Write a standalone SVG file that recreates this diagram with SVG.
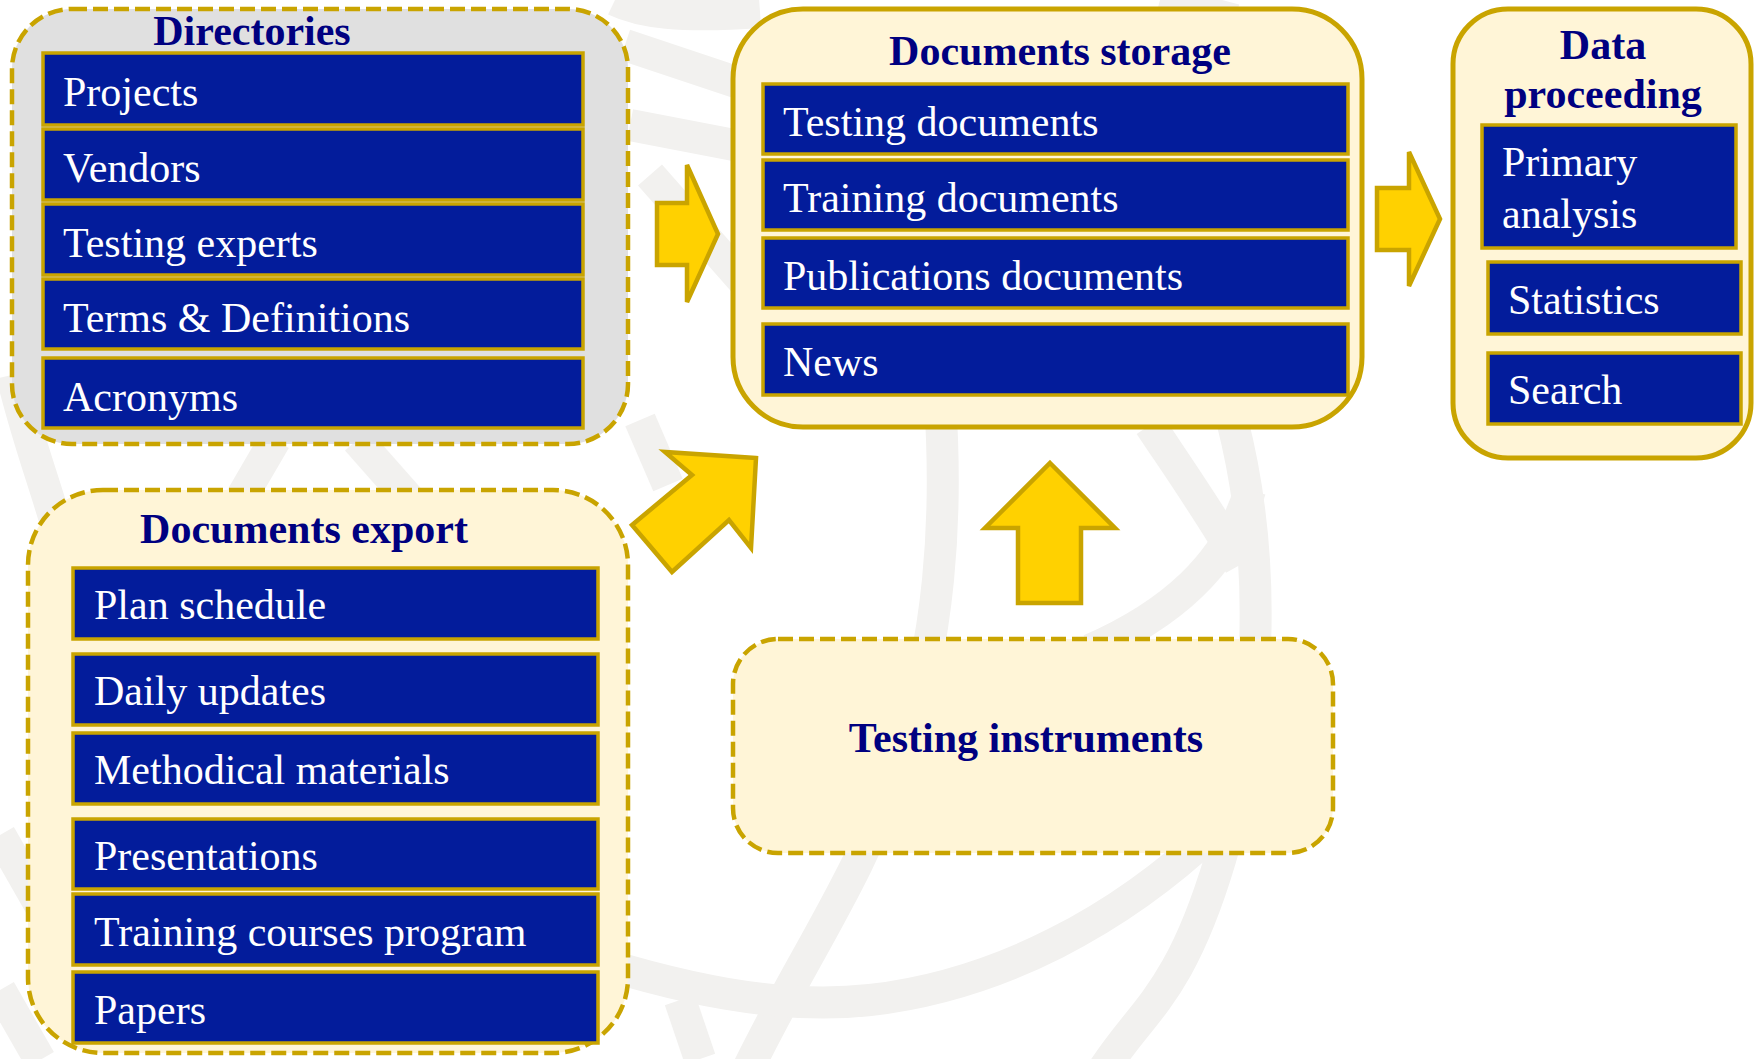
<svg xmlns="http://www.w3.org/2000/svg" width="1758" height="1059" viewBox="0 0 1758 1059">
<style>
.wm{fill:none;stroke:#f2f1ef;stroke-width:32;stroke-linecap:butt}
.grp-grey{fill:#e0e0e0;stroke:#c9a400;stroke-width:4.5;stroke-dasharray:15 6}
.grp-dash{fill:#fff5d7;stroke:#c9a400;stroke-width:4.5;stroke-dasharray:15 6}
.grp-solid{fill:#fff5d7;stroke:#c9a400;stroke-width:5}
.item{fill:#031c9b;stroke:#c9a400;stroke-width:3.5}
.title{font-family:"Liberation Serif","Times New Roman",serif;font-weight:bold;font-size:42px;fill:#000080;text-anchor:middle}
.lbl{font-family:"Liberation Serif","Times New Roman",serif;font-size:42px;fill:#ffffff}
.arrow{fill:#ffd100;stroke:#c9a400;stroke-width:4.5;stroke-linejoin:miter}
</style>
<rect width="1758" height="1059" fill="#ffffff"/>
<g id="watermark">
<path class="wm" d="M 940 400 C 948 520, 940 640, 900 760 S 800 960, 745 1075"/>
<path class="wm" d="M 1232 420 C 1268 560, 1262 720, 1220 860 S 1140 1010, 1100 1075"/>
<path class="wm" d="M 560 950 C 680 990, 780 1010, 870 1000 C 1000 985, 1120 920, 1215 830"/>
<path class="wm" d="M 1150 425 C 1180 470, 1215 520, 1240 565"/>
<path class="wm" d="M 1250 490 C 1228 565, 1170 615, 1090 650"/>
<path class="wm" d="M 12 375 C 25 430, 40 470, 55 520"/>
<path class="wm" d="M 275 440 L 240 500"/>
<path class="wm" d="M 357 440 L 410 500"/>
<path class="wm" d="M 640 420 L 668 485"/>
<path class="wm" d="M 0 835 L 40 905"/>
<path class="wm" d="M 0 990 L 40 1060"/>
<path class="wm" d="M 615 0 C 640 12, 680 18, 760 12"/>
<path class="wm" d="M 1160 0 L 1235 20"/>
<path class="wm" d="M 625 45 L 760 90"/>
<path class="wm" d="M 630 125 L 760 150"/>
<path class="wm" d="M 650 175 L 760 300"/>
<path class="wm" d="M 700 1059 L 680 1000"/>
</g>
<g id="connectors">
<polygon class="arrow" points="657,203 687,203 687,165 718,234 687,302 687,265 657,265"/>
<polygon class="arrow" points="1377,188 1409,188 1409,152 1440,219 1409,286 1409,250 1377,250"/>
<polygon class="arrow" points="756,458 665,452 692,475 632,525 672,572 729,520 751,548"/>
<polygon class="arrow" points="1050,463 1115,528 1081,528 1081,603 1018,603 1018,528 985,528"/>
</g>
<g id="directories">
<rect class="grp-grey" x="12" y="9" width="616" height="435" rx="60"/>
<text class="title" x="252" y="45">Directories</text>
<rect class="item" x="43" y="53" width="540" height="72"/>
<text class="lbl" x="63" y="106">Projects</text>
<rect class="item" x="43" y="129" width="540" height="71"/>
<text class="lbl" x="63" y="182">Vendors</text>
<rect class="item" x="43" y="204" width="540" height="71"/>
<text class="lbl" x="63" y="257">Testing experts</text>
<rect class="item" x="43" y="279" width="540" height="70"/>
<text class="lbl" x="63" y="332">Terms &amp; Definitions</text>
<rect class="item" x="43" y="358" width="540" height="70"/>
<text class="lbl" x="63" y="411">Acronyms</text>
</g>
<g id="documents-storage">
<rect class="grp-solid" x="733" y="9" width="629" height="418" rx="70"/>
<text class="title" x="1060" y="65">Documents storage</text>
<rect class="item" x="763" y="84" width="585" height="70"/>
<text class="lbl" x="783" y="136">Testing documents</text>
<rect class="item" x="763" y="160" width="585" height="70"/>
<text class="lbl" x="783" y="212">Training documents</text>
<rect class="item" x="763" y="238" width="585" height="70"/>
<text class="lbl" x="783" y="290">Publications documents</text>
<rect class="item" x="763" y="324" width="585" height="71"/>
<text class="lbl" x="783" y="376">News</text>
</g>
<g id="data-proceeding">
<rect class="grp-solid" x="1453" y="9" width="298" height="449" rx="55"/>
<text class="title" x="1603" y="59">Data</text>
<text class="title" x="1603" y="108">proceeding</text>
<rect class="item" x="1482" y="125" width="254" height="123"/>
<text class="lbl" x="1502" y="176">Primary</text>
<text class="lbl" x="1502" y="228">analysis</text>
<rect class="item" x="1488" y="262" width="253" height="72"/>
<text class="lbl" x="1508" y="314">Statistics</text>
<rect class="item" x="1488" y="353" width="253" height="71"/>
<text class="lbl" x="1508" y="404">Search</text>
</g>
<g id="documents-export">
<rect class="grp-dash" x="28" y="490" width="600" height="563" rx="75"/>
<text class="title" x="304" y="543">Documents export</text>
<rect class="item" x="73" y="568" width="525" height="71"/>
<text class="lbl" x="94" y="619">Plan schedule</text>
<rect class="item" x="73" y="654" width="525" height="71"/>
<text class="lbl" x="94" y="705">Daily updates</text>
<rect class="item" x="73" y="733" width="525" height="71"/>
<text class="lbl" x="94" y="784">Methodical materials</text>
<rect class="item" x="73" y="819" width="525" height="70"/>
<text class="lbl" x="94" y="870">Presentations</text>
<rect class="item" x="73" y="894" width="525" height="71"/>
<text class="lbl" x="94" y="946">Training courses program</text>
<rect class="item" x="73" y="972" width="525" height="71"/>
<text class="lbl" x="94" y="1024">Papers</text>
</g>
<g id="testing-instruments">
<rect class="grp-dash" x="733" y="639" width="600" height="214" rx="45"/>
<text class="title" x="1026" y="752">Testing instruments</text>
</g>
</svg>
